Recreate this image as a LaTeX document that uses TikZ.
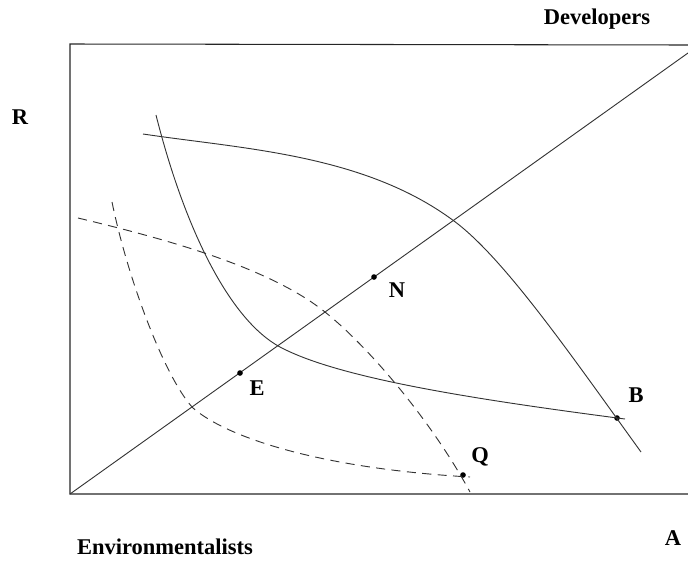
\documentclass[tikz,border=0pt]{standalone}
\usepackage{fontspec}
\setmainfont{Liberation Serif}
\usetikzlibrary{positioning}
\tikzset{
  eixo/.style={line width=0.75pt, black!85},
  curva/.style={line width=0.65pt, black!80},
  tracejada/.style={curva, dash pattern=on 6.5pt off 4.5pt},
  ponto/.style={circle, fill=black, inner sep=0pt, minimum size=4pt},
  rotulo/.style={font=\fontsize{16}{19}\selectfont\bfseries, inner sep=0pt},
}

\begin{document}
\begin{tikzpicture}[x=0.025cm, y=-0.025cm]
\useasboundingbox (0,0) rectangle (688,560);

% caixa e diagonal
\coordinate (sup) at (70,44);
\coordinate (O) at (70,494);
\coordinate (infdir) at (688,494);
\coordinate (supdir) at (688,45);
\coordinate (diag) at (688,53);
\draw[eixo] (supdir) -- (sup) -- (O) -- (infdir);
\draw[curva] (O) -- (diag);

% pontos
\node[ponto] (N) at (374,277) {};
\node[ponto] (E) at (240,373) {};
\node[ponto] (B) at (617,418) {};
\node[ponto] (Q) at (463,475) {};

% curvas cheias
\draw[curva] (143,134) .. controls (243,149) and (364,154) .. (454,221)
  .. controls (504,258) and (571,355) .. (641,452);
\draw[curva] (156,115) .. controls (185,230) and (230,320) .. (280,347)
  .. controls (340,379) and (480,400) .. (625,419);

% curvas tracejadas
\draw[tracejada] (78,218) .. controls (170,240) and (270,268) .. (325,312)
  .. controls (370,348) and (432,422) .. (470,492);
\draw[tracejada] (112,202) .. controls (128,280) and (165,378) .. (193,408)
  .. controls (225,436) and (315,468) .. (470,477);

% rotulos
\node[rotulo] (dev) at (597,19) {Developers};
\node[rotulo] (env) at (165,547) {Environmentalists};
\node[rotulo] (R) at (20,117) {R};
\node[rotulo] (A) at (673,538) {A};
\node[rotulo] (lN) at (397,290) {N};
\node[rotulo] (lE) at (257,388) {E};
\node[rotulo] (lB) at (636,395) {B};
\node[rotulo] (lQ) at (480,457) {Q};

\end{tikzpicture}
\end{document}
